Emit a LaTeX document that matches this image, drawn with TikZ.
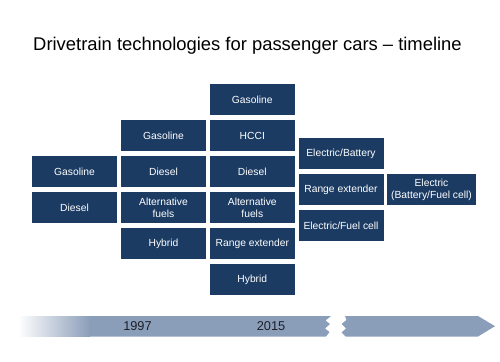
\documentclass[tikz,border=0pt]{standalone}
\usepackage{fontspec}
\setmainfont{Liberation Sans}
\definecolor{navy}{HTML}{1B3B63}
\definecolor{barcol}{HTML}{8B9EB9}
\definecolor{ink}{HTML}{1C1F2A}
\begin{document}
\begin{tikzpicture}[x=1pt,y=-1pt,
  tbox/.style={fill=navy,text=white,minimum width=85pt,minimum height=31pt,
    inner sep=0pt,align=center,font=\fontsize{10.3}{12}\selectfont},
  yearlbl/.style={text=ink,font=\fontsize{12.8}{14}\selectfont,inner sep=0pt}]
\useasboundingbox (0,0) rectangle (500,361);
% title
\node[font=\fontsize{18.4}{21}\selectfont,text=black,inner sep=0pt] (title) at (247.5,46) {Drivetrain technologies for passenger cars -- timeline};
% column 1
\node[tbox] (c1a) at (74.5,171.5) {Gasoline};
\node[tbox] (c1b) at (74.5,207.5) {Diesel};
% column 2
\node[tbox] (c2a) at (163.5,135.5) {Gasoline};
\node[tbox] (c2b) at (163.5,171.5) {Diesel};
\node[tbox] (c2c) at (163.5,207.5) {Alternative\\fuels};
\node[tbox] (c2d) at (163.5,243.5) {Hybrid};
% column 3
\node[tbox] (c3a) at (252.3,99.5) {Gasoline};
\node[tbox] (c3b) at (252.3,135.5) {HCCI};
\node[tbox] (c3c) at (252.3,171.5) {Diesel};
\node[tbox] (c3d) at (252.3,207.5) {Alternative\\fuels};
\node[tbox] (c3e) at (252.3,243.5) {Range extender};
\node[tbox] (c3f) at (252.3,279.5) {Hybrid};
% column 4
\node[tbox] (c4a) at (341,153.5) {Electric/Battery};
\node[tbox] (c4b) at (341,189.5) {Range extender};
\node[tbox] (c4c) at (341,225.5) {Electric/Fuel cell};
% column 5
\node[tbox,minimum width=89pt] (c5a) at (431.5,189.5) {Electric\\(Battery/Fuel cell)};
% timeline bar
\shade[left color=white,right color=barcol,shading angle=90] (18,316) rectangle (90,336.5);
\fill[barcol] (89.5,316) -- (331,316) -- (325.5,320.5) -- (330,324) -- (325,328.5) -- (329.5,332) -- (326,336.5) -- (89.5,336.5) -- cycle;
\fill[barcol] (345,316) -- (478,316) -- (495,326.2) -- (478,336.5) -- (345.5,336.5) -- (341.5,332.5) -- (346,328.5) -- (341.5,324) -- (346.5,320) -- cycle;
\node[yearlbl] (y1997) at (137.5,326.5) {1997};
\node[yearlbl] (y2015) at (271,326.5) {2015};
\end{tikzpicture}
\end{document}
